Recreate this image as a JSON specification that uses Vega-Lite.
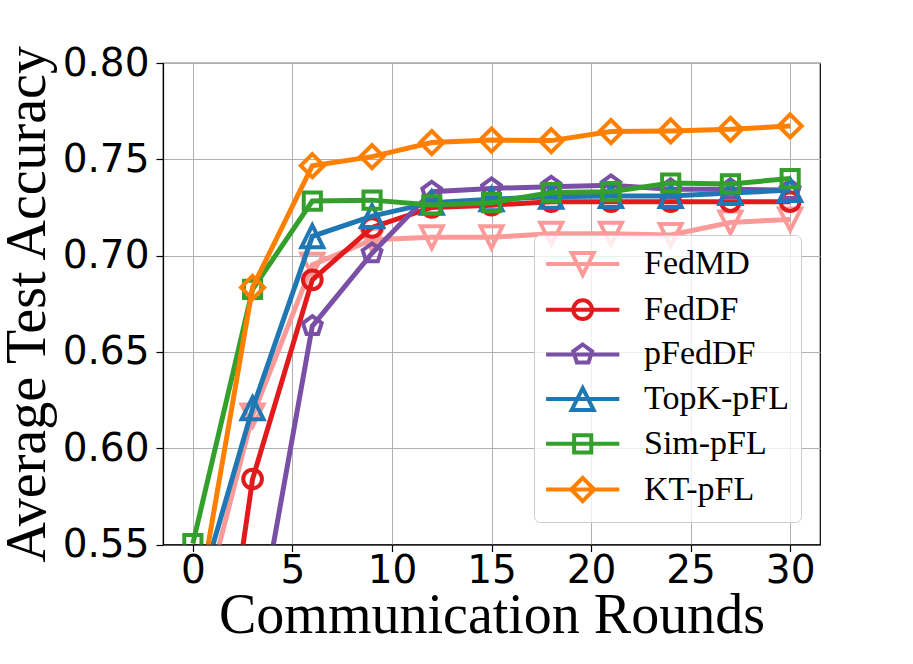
{
  "$schema": "https://vega.github.io/schema/vega-lite/v6.json",
  "width": 657,
  "height": 481.5,
  "autosize": {"type": "none"},
  "padding": {"left": 163, "top": 63, "right": 93, "bottom": 119.5},
  "background": "white",
  "config": {
    "view": {"stroke": "black", "strokeWidth": 1.2},
    "axis": {
      "labelFont": "DejaVu Sans",
      "labelFontSize": 39,
      "labelColor": "black",
      "titleFont": "Liberation Serif",
      "titleFontSize": 56,
      "titleFontWeight": "normal",
      "titleColor": "black",
      "domainColor": "black",
      "domainWidth": 1.2,
      "tickColor": "black",
      "tickWidth": 1.2,
      "tickSize": 7,
      "gridColor": "#b0b0b0",
      "gridWidth": 1,
      "grid": true,
      "labelFlush": false,
      "labelOverlap": false
    }
  },
  "data": {
    "values": [
      {"method": "FedMD", "round": 0, "acc": 0.497},
      {"method": "FedMD", "round": 3, "acc": 0.617},
      {"method": "FedMD", "round": 6, "acc": 0.6952},
      {"method": "FedMD", "round": 9, "acc": 0.7082},
      {"method": "FedMD", "round": 12, "acc": 0.7095},
      {"method": "FedMD", "round": 15, "acc": 0.7095},
      {"method": "FedMD", "round": 18, "acc": 0.7113},
      {"method": "FedMD", "round": 21, "acc": 0.7113},
      {"method": "FedMD", "round": 24, "acc": 0.7107},
      {"method": "FedMD", "round": 27, "acc": 0.7172},
      {"method": "FedMD", "round": 30, "acc": 0.7188},
      {"method": "FedDF", "round": 0, "acc": 0.37},
      {"method": "FedDF", "round": 3, "acc": 0.584},
      {"method": "FedDF", "round": 6, "acc": 0.6874},
      {"method": "FedDF", "round": 9, "acc": 0.7146},
      {"method": "FedDF", "round": 12, "acc": 0.725},
      {"method": "FedDF", "round": 15, "acc": 0.7262},
      {"method": "FedDF", "round": 18, "acc": 0.728},
      {"method": "FedDF", "round": 21, "acc": 0.728},
      {"method": "FedDF", "round": 24, "acc": 0.728},
      {"method": "FedDF", "round": 27, "acc": 0.728},
      {"method": "FedDF", "round": 30, "acc": 0.728},
      {"method": "pFedDF", "round": 0, "acc": 0.4},
      {"method": "pFedDF", "round": 3, "acc": 0.4895},
      {"method": "pFedDF", "round": 6, "acc": 0.6634},
      {"method": "pFedDF", "round": 9, "acc": 0.7012},
      {"method": "pFedDF", "round": 12, "acc": 0.7332},
      {"method": "pFedDF", "round": 15, "acc": 0.7349},
      {"method": "pFedDF", "round": 18, "acc": 0.7358},
      {"method": "pFedDF", "round": 21, "acc": 0.7365},
      {"method": "pFedDF", "round": 24, "acc": 0.7345},
      {"method": "pFedDF", "round": 27, "acc": 0.7345},
      {"method": "pFedDF", "round": 30, "acc": 0.734},
      {"method": "TopK-pFL", "round": 0, "acc": 0.514},
      {"method": "TopK-pFL", "round": 3, "acc": 0.6207},
      {"method": "TopK-pFL", "round": 6, "acc": 0.71},
      {"method": "TopK-pFL", "round": 9, "acc": 0.7205},
      {"method": "TopK-pFL", "round": 12, "acc": 0.7275},
      {"method": "TopK-pFL", "round": 15, "acc": 0.7292},
      {"method": "TopK-pFL", "round": 18, "acc": 0.7306},
      {"method": "TopK-pFL", "round": 21, "acc": 0.731},
      {"method": "TopK-pFL", "round": 24, "acc": 0.731},
      {"method": "TopK-pFL", "round": 27, "acc": 0.7325},
      {"method": "TopK-pFL", "round": 30, "acc": 0.734},
      {"method": "Sim-pFL", "round": 0, "acc": 0.5505},
      {"method": "Sim-pFL", "round": 3, "acc": 0.6825},
      {"method": "Sim-pFL", "round": 6, "acc": 0.7283},
      {"method": "Sim-pFL", "round": 9, "acc": 0.7288},
      {"method": "Sim-pFL", "round": 12, "acc": 0.7263},
      {"method": "Sim-pFL", "round": 15, "acc": 0.7275},
      {"method": "Sim-pFL", "round": 18, "acc": 0.7327},
      {"method": "Sim-pFL", "round": 21, "acc": 0.7332},
      {"method": "Sim-pFL", "round": 24, "acc": 0.7377},
      {"method": "Sim-pFL", "round": 27, "acc": 0.7372},
      {"method": "Sim-pFL", "round": 30, "acc": 0.74},
      {"method": "KT-pFL", "round": 0, "acc": 0.504},
      {"method": "KT-pFL", "round": 3, "acc": 0.6835},
      {"method": "KT-pFL", "round": 6, "acc": 0.7467},
      {"method": "KT-pFL", "round": 9, "acc": 0.7514},
      {"method": "KT-pFL", "round": 12, "acc": 0.7587},
      {"method": "KT-pFL", "round": 15, "acc": 0.76},
      {"method": "KT-pFL", "round": 18, "acc": 0.7597},
      {"method": "KT-pFL", "round": 21, "acc": 0.7644},
      {"method": "KT-pFL", "round": 24, "acc": 0.7647},
      {"method": "KT-pFL", "round": 27, "acc": 0.7656},
      {"method": "KT-pFL", "round": 30, "acc": 0.7673}
    ]
  },
  "encoding": {
    "x": {
      "field": "round",
      "type": "quantitative",
      "scale": {"domain": [-1.5, 31.5], "nice": false, "zero": false},
      "axis": {
        "title": "Communication Rounds",
        "values": [0, 5, 10, 15, 20, 25, 30],
        "labelPadding": 0,
        "titlePadding": -2
      }
    },
    "y": {
      "field": "acc",
      "type": "quantitative",
      "scale": {"domain": [0.55, 0.8], "nice": false, "zero": false},
      "axis": {
        "title": "Average Test Accuracy",
        "values": [0.55, 0.6, 0.65, 0.7, 0.75, 0.8],
        "format": ".2f",
        "labelPadding": 7,
        "titlePadding": 6
      }
    },
    "color": {
      "field": "method",
      "type": "nominal",
      "scale": {
        "domain": ["FedMD", "FedDF", "pFedDF", "TopK-pFL", "Sim-pFL", "KT-pFL"],
        "range": ["#fb9a99", "#e31a1c", "#7a4fa6", "#1f78b4", "#33a02c", "#ff7f00"]
      },
      "legend": {
        "orient": "none",
        "legendX": 371,
        "legendY": 172,
        "title": null,
        "fillColor": "rgba(255,255,255,0.8)",
        "strokeColor": "#cccccc",
        "cornerRadius": 6,
        "padding": 12,
        "labelFont": "Liberation Serif",
        "labelFontSize": 34,
        "labelColor": "black",
        "labelLimit": 300,
        "symbolSize": 484,
        "symbolStrokeWidth": 4,
        "symbolOpacity": 1,
        "rowPadding": 8.7,
        "encode": {
          "symbols": {"update": {"fill": {"value": "transparent"}, "x": {"value": 36.7}}},
          "labels": {"update": {"x": {"value": 98}}}
        }
      }
    }
  },
  "layer": [
    {"transform": [{"filter": {"field": "method", "equal": "FedMD"}}], "mark": {"type": "line", "strokeWidth": 5, "clip": true}},
    {"transform": [{"filter": {"field": "method", "equal": "FedMD"}}], "mark": {"type": "point", "shape": "M-1,-1L1,-1L0,1Z", "filled": false, "strokeWidth": 4, "size": 484, "opacity": 1, "clip": true}},
    {"transform": [{"filter": {"field": "method", "equal": "FedDF"}}], "mark": {"type": "line", "strokeWidth": 5, "clip": true}},
    {"transform": [{"filter": {"field": "method", "equal": "FedDF"}}], "mark": {"type": "point", "shape": "M-0.85,0A0.85,0.85,0,1,1,0.85,0A0.85,0.85,0,1,1,-0.85,0Z", "filled": false, "strokeWidth": 4, "size": 484, "opacity": 1, "clip": true}},
    {"transform": [{"filter": {"field": "method", "equal": "pFedDF"}}], "mark": {"type": "line", "strokeWidth": 5, "clip": true}},
    {"transform": [{"filter": {"field": "method", "equal": "pFedDF"}}], "mark": {"type": "point", "shape": "M0,-0.9L0.856,-0.278L0.529,0.728L-0.529,0.728L-0.856,-0.278Z", "filled": false, "strokeWidth": 4, "size": 484, "opacity": 1, "clip": true}},
    {"transform": [{"filter": {"field": "method", "equal": "TopK-pFL"}}], "mark": {"type": "line", "strokeWidth": 5, "clip": true}},
    {"transform": [{"filter": {"field": "method", "equal": "TopK-pFL"}}], "mark": {"type": "point", "shape": "M0,-1L1,1L-1,1Z", "filled": false, "strokeWidth": 4, "size": 484, "opacity": 1, "clip": true}},
    {"transform": [{"filter": {"field": "method", "equal": "Sim-pFL"}}], "mark": {"type": "line", "strokeWidth": 5, "clip": true}},
    {"transform": [{"filter": {"field": "method", "equal": "Sim-pFL"}}], "mark": {"type": "point", "shape": "M-0.78,-0.78L0.78,-0.78L0.78,0.78L-0.78,0.78Z", "filled": false, "strokeWidth": 4, "size": 484, "opacity": 1, "clip": true}},
    {"transform": [{"filter": {"field": "method", "equal": "KT-pFL"}}], "mark": {"type": "line", "strokeWidth": 5, "clip": true}},
    {"transform": [{"filter": {"field": "method", "equal": "KT-pFL"}}], "mark": {"type": "point", "shape": "M0,-1.05L1.05,0L0,1.05L-1.05,0Z", "filled": false, "strokeWidth": 4, "size": 484, "opacity": 1, "clip": true}},
    {
      "mark": {"type": "point", "filled": false, "strokeWidth": 4, "size": 484, "opacity": 0, "clip": true},
      "encoding": {
        "shape": {
          "field": "method",
          "type": "nominal",
          "scale": {
            "domain": ["FedMD", "FedDF", "pFedDF", "TopK-pFL", "Sim-pFL", "KT-pFL"],
            "range": [
              "M-3.33,0L3.33,0M-1,-1L1,-1L0,1Z",
              "M-3.33,0L3.33,0M-0.85,0A0.85,0.85,0,1,1,0.85,0A0.85,0.85,0,1,1,-0.85,0Z",
              "M-3.33,0L3.33,0M0,-0.9L0.856,-0.278L0.529,0.728L-0.529,0.728L-0.856,-0.278Z",
              "M-3.33,0L3.33,0M0,-1L1,1L-1,1Z",
              "M-3.33,0L3.33,0M-0.78,-0.78L0.78,-0.78L0.78,0.78L-0.78,0.78Z",
              "M-3.33,0L3.33,0M0,-1.05L1.05,0L0,1.05L-1.05,0Z"
            ]
          },
          "legend": {
            "orient": "none",
            "legendX": 371,
            "legendY": 172,
            "title": null,
            "fillColor": "rgba(255,255,255,0.8)",
            "strokeColor": "#cccccc",
            "cornerRadius": 6,
            "padding": 12,
            "labelFont": "Liberation Serif",
            "labelFontSize": 34,
            "labelColor": "black",
            "labelLimit": 300,
            "symbolSize": 484,
            "symbolStrokeWidth": 4,
            "symbolOpacity": 1,
            "rowPadding": 8.7,
            "encode": {
              "symbols": {"update": {"fill": {"value": "transparent"}, "x": {"value": 36.7}}},
              "labels": {"update": {"x": {"value": 98}}}
            }
          }
        }
      }
    }
  ]
}
